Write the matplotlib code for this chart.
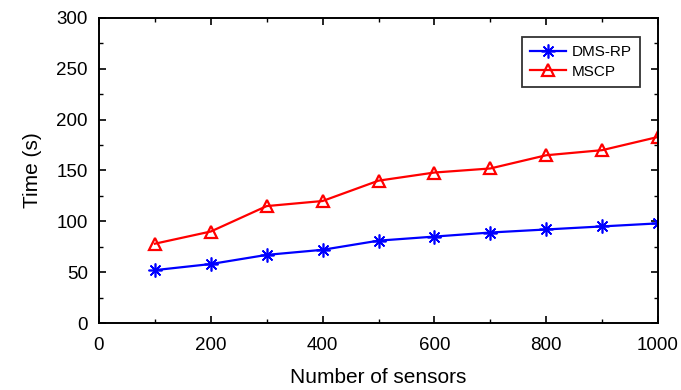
import matplotlib
matplotlib.use("Agg")
import matplotlib.pyplot as plt
from matplotlib.ticker import MultipleLocator

plt.rcParams['font.family'] = ['Liberation Sans', 'DejaVu Sans']

sensors = [100, 200, 300, 400, 500, 600, 700, 800, 900, 1000]
dms_rp = [52, 58, 67, 72, 81, 85, 89, 92, 95, 98]
mscp = [78, 90, 115, 120, 140, 148, 152, 165, 170, 183]

fig = plt.figure(figsize=(6.81, 3.90), dpi=100)
ax = fig.add_axes([99/681, 1 - 323/390, (658-99)/681, (323-18)/390])

ax.plot(sensors, dms_rp, color='blue', marker=(8, 2, 0), markersize=10,
        markeredgewidth=1.2, linewidth=1.6, label='DMS-RP')
ax.plot(sensors, mscp, color='red', marker='^', markersize=8, markerfacecolor='none',
        markeredgewidth=1.6, linewidth=1.6, label='MSCP')

ax.set_xlim(0, 1000)
ax.set_ylim(0, 300)
ax.xaxis.set_major_locator(MultipleLocator(200))
ax.xaxis.set_minor_locator(MultipleLocator(100))
ax.yaxis.set_major_locator(MultipleLocator(50))
ax.yaxis.set_minor_locator(MultipleLocator(25))
ax.tick_params(which='both', direction='in', top=True, right=True, labelsize=13.5)
ax.tick_params(axis='y', pad=8)
ax.tick_params(axis='x', pad=10)
ax.tick_params(which='major', length=5, width=1.2)
ax.tick_params(which='minor', length=3, width=1.0)
for s in ax.spines.values():
    s.set_linewidth(1.4)

ax.set_xlabel('Number of sensors', fontsize=15, labelpad=10)
ax.set_ylabel('Time (s)', fontsize=15, labelpad=10)

leg = ax.legend(loc='upper right', bbox_to_anchor=(0.968, 0.938), fontsize=11,
                frameon=True, fancybox=False, edgecolor='black', handlelength=2.3,
                borderpad=0.55, labelspacing=0.35, handletextpad=0.4, borderaxespad=0)
leg.get_frame().set_linewidth(1.3)

fig.savefig('out.png', dpi=100)
